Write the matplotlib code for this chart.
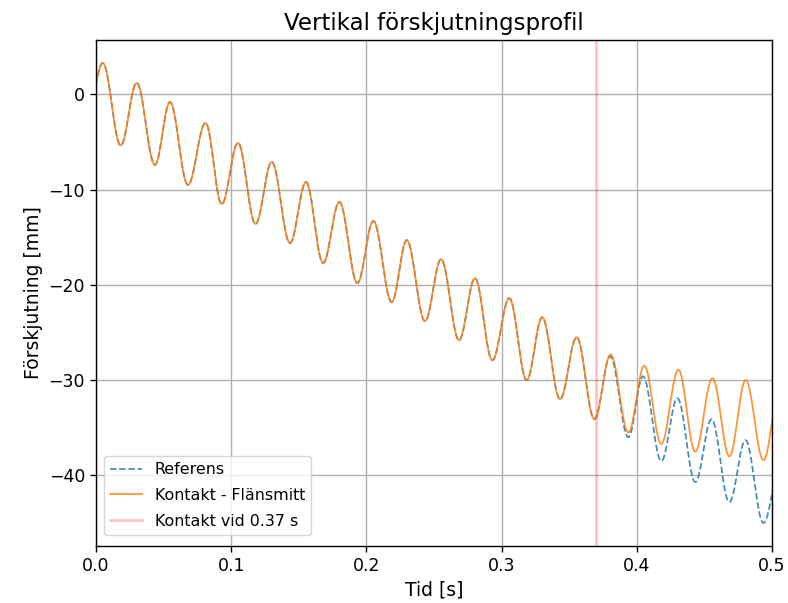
import numpy as np
import matplotlib
matplotlib.use("Agg")
import matplotlib.pyplot as plt

# Extrema (shared part, both series identical up to contact)
shared_t = [0.0050, 0.0183, 0.0301, 0.0436, 0.0547, 0.0680, 0.0810, 0.0930, 0.1050, 0.1180,
            0.1300, 0.1435, 0.1553, 0.1680, 0.1800, 0.1933, 0.2051, 0.2187, 0.2298, 0.2433,
            0.2552, 0.2685, 0.2803, 0.2931, 0.3057, 0.3185, 0.3300, 0.3432, 0.3555, 0.3686]
shared_y = [3.3, -5.35, 1.2, -7.4, -0.8, -9.5, -3.0, -11.5, -5.1, -13.6,
            -7.1, -15.6, -9.2, -17.7, -11.3, -19.8, -13.3, -21.8, -15.3, -23.8,
            -17.3, -25.8, -19.3, -27.9, -21.4, -30.0, -23.4, -32.0, -25.5, -34.1]

# After contact (0.37 s)
ref_tail_t = [0.3803, 0.3937, 0.4045, 0.4181, 0.4300, 0.4432, 0.4552, 0.4684, 0.4803, 0.4936]
ref_tail_y = [-27.5, -36.0, -29.6, -38.5, -31.9, -40.7, -34.1, -42.8, -36.3, -45.0]
con_tail_t = [0.3806, 0.3937, 0.4055, 0.4180, 0.4307, 0.4431, 0.4559, 0.4684, 0.4805, 0.4936]
con_tail_y = [-27.3, -35.5, -28.5, -36.7, -28.9, -37.5, -29.8, -38.0, -30.0, -38.4]

t_start, y_start = 0.0, 1.0
t_end = 0.5
ref_end_y = -41.9
con_end_y = -34.3
contact_time = 0.37


def smooth_curve(kt, ky, t0, y0, t1, y1, n=40):
    kt = np.asarray(kt, float)
    ky = np.asarray(ky, float)
    H = np.median(np.diff(kt))
    ts, ys = [], []
    s = np.linspace(t0, kt[0], n)
    den = 1 - np.cos(np.pi * (kt[0] - t0) / H)
    ts.append(s)
    ys.append(ky[0] + (y0 - ky[0]) * (1 - np.cos(np.pi * (kt[0] - s) / H)) / den)
    for a in range(len(kt) - 1):
        s = np.linspace(kt[a], kt[a + 1], n)
        u = (s - kt[a]) / (kt[a + 1] - kt[a])
        ts.append(s)
        ys.append(ky[a] + (ky[a + 1] - ky[a]) * (1 - np.cos(np.pi * u)) / 2)
    s = np.linspace(kt[-1], t1, n)
    den = 1 - np.cos(np.pi * (t1 - kt[-1]) / H)
    ts.append(s)
    ys.append(ky[-1] + (y1 - ky[-1]) * (1 - np.cos(np.pi * (s - kt[-1]) / H)) / den)
    return np.concatenate(ts), np.concatenate(ys)


ref_t, ref_y = smooth_curve(shared_t + ref_tail_t, shared_y + ref_tail_y, t_start, y_start, t_end, ref_end_y)
con_t, con_y = smooth_curve(shared_t + con_tail_t, shared_y + con_tail_y, t_start, y_start, t_end, con_end_y)

plt.rcParams.update({
    'axes.linewidth': 1.0,
    'xtick.major.width': 1.0, 'ytick.major.width': 1.0,
    'xtick.major.size': 4.4, 'ytick.major.size': 4.4,
    'xtick.labelsize': 12.5, 'ytick.labelsize': 12.5,
    'grid.linewidth': 1.0,
})

fig = plt.figure(figsize=(7.88, 6.03), dpi=100)
ax = fig.add_axes([0.1218, 0.0945, 0.858, 0.8392])
ax.plot(ref_t, ref_y, '--', color='tab:blue', lw=1.25, alpha=0.85, dashes=(3.7, 1.6), label='Referens')
ax.plot(con_t, con_y, '-', color='tab:orange', lw=1.25, alpha=0.85, label='Kontakt - Flänsmitt')
ax.axvline(contact_time, color='red', alpha=0.25, lw=1.9, label=f'Kontakt vid {contact_time} s')
ax.set_xlim(0, 0.5)
ax.set_title('Vertikal förskjutningsprofil', fontsize=16.5, pad=7)
ax.set_xlabel('Tid [s]', fontsize=13.5)
ax.set_ylabel('Förskjutning [mm]', fontsize=13.5)
ax.grid(True)
ax.legend(loc='lower left', fontsize=11.4, labelspacing=0.68,
          bbox_to_anchor=(0.0, 0.006))
fig.savefig('out.png', dpi=100)
